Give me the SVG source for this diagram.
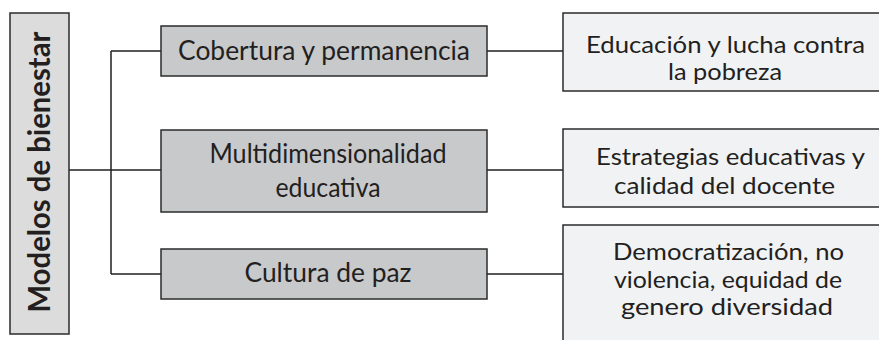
<svg xmlns="http://www.w3.org/2000/svg" width="879" height="340" viewBox="0 0 879 340">
<style>
.lbl{font-family:Lato,"Open Sans","Liberation Sans",sans-serif;font-size:26px;fill:#231f20;text-anchor:middle}
.lbl.r{font-size:23px}
.root{font-family:Lato,"Open Sans","Liberation Sans",sans-serif;font-size:30px;font-weight:bold;fill:#231f20;text-anchor:middle}
.mid{fill:#c8c9cb;stroke:#2b2b2b;stroke-width:1.5}
.rgt{fill:#f1f2f4;stroke:#2b2b2b;stroke-width:1.5}
.rootbox{fill:#dcdcdd;stroke:#2b2b2b;stroke-width:1.5}
.conn{stroke:#231f20;stroke-width:1.5;fill:none}
</style>
<rect width="879" height="340" fill="#ffffff"/>
<g id="connectors">
<path class="conn" d="M69 170H161M111 51V274M111 51H161M111 274H161M487 51H563M487 170H563M487 274H563"/>
</g>
<g id="root">
<rect class="rootbox" x="10" y="13" width="59" height="321"/>
<text class="root" transform="translate(50,172) rotate(-90)" x="0" y="0" textLength="281" lengthAdjust="spacingAndGlyphs">Modelos de bienestar</text>
</g>
<g id="cobertura">
<rect class="mid" x="161" y="26" width="326" height="50"/>
<text class="lbl" x="324" y="59.5" textLength="292" lengthAdjust="spacingAndGlyphs">Cobertura y permanencia</text>
</g>
<g id="multidimensionalidad">
<rect class="mid" x="161" y="130" width="326" height="82"/>
<text class="lbl" x="328" y="163" textLength="237" lengthAdjust="spacingAndGlyphs">Multidimensionalidad</text>
<text class="lbl" x="328" y="197" textLength="105" lengthAdjust="spacingAndGlyphs">educativa</text>
</g>
<g id="cultura">
<rect class="mid" x="161" y="249" width="326" height="50"/>
<text class="lbl" x="328" y="282" textLength="167" lengthAdjust="spacingAndGlyphs">Cultura de paz</text>
</g>
<g id="educacion">
<rect class="rgt" x="563" y="13" width="330" height="78"/>
<text class="lbl r" x="725.5" y="53" textLength="279" lengthAdjust="spacingAndGlyphs">Educación y lucha contra</text>
<text class="lbl r" x="725" y="80" textLength="114" lengthAdjust="spacingAndGlyphs">la pobreza</text>
</g>
<g id="estrategias">
<rect class="rgt" x="563" y="129" width="330" height="78"/>
<text class="lbl r" x="730.5" y="165" textLength="269" lengthAdjust="spacingAndGlyphs">Estrategias educativas y</text>
<text class="lbl r" x="724.5" y="194" textLength="221" lengthAdjust="spacingAndGlyphs">calidad del docente</text>
</g>
<g id="democratizacion">
<rect class="rgt" x="563" y="225" width="330" height="130"/>
<text class="lbl r" x="728.5" y="260" textLength="231" lengthAdjust="spacingAndGlyphs">Democratización, no</text>
<text class="lbl r" x="728" y="288" textLength="228" lengthAdjust="spacingAndGlyphs">violencia, equidad de</text>
<text class="lbl r" x="727" y="315" textLength="212" lengthAdjust="spacingAndGlyphs">genero diversidad</text>
</g>
</svg>
